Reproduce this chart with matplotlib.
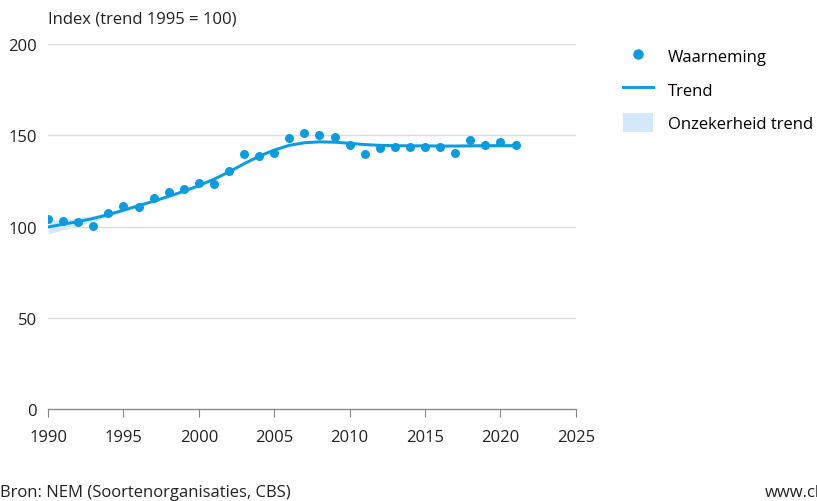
import numpy as np
import matplotlib.pyplot as plt
from matplotlib.lines import Line2D
from matplotlib.patches import Patch

plt.rcParams['font.family'] = ['Open Sans', 'DejaVu Sans']

years = np.arange(1990, 2022)
waarneming = [104.1, 103.0, 102.5, 100.3, 107.4, 111.2, 110.7, 115.6, 118.9, 120.5,
              124.0, 123.3, 130.4, 139.7, 138.6, 140.5, 148.5, 151.2, 150.5, 149.3,
              144.9, 139.7, 142.9, 143.6, 143.6, 143.6, 143.5, 140.3, 147.5, 144.7,
              146.4, 144.9]
trend = [99.8, 101.3, 102.8, 104.5, 106.6, 109.0, 111.5, 114.0, 116.6, 119.4,
         122.5, 126.0, 130.0, 134.5, 138.6, 142.0, 144.6, 146.0, 146.5, 146.3,
         145.7, 145.0, 144.6, 144.4, 144.3, 144.3, 144.2, 144.2, 144.3, 144.4,
         144.4, 144.4]
band_lo = [96.0, 98.3, 100.5, 102.8, 105.4, 108.1, 110.7, 113.3, 115.9, 118.7,
           121.8, 125.3, 129.3, 133.8, 137.9, 141.3, 143.9, 145.3, 145.8, 145.6,
           145.0, 144.3, 143.9, 143.7, 143.6, 143.6, 143.5, 143.5, 143.5, 143.5,
           143.4, 143.3]
band_hi = [103.3, 104.1, 105.0, 106.1, 107.8, 109.9, 112.3, 114.7, 117.3, 120.1,
           123.2, 126.7, 130.7, 135.2, 139.3, 142.7, 145.3, 146.7, 147.2, 147.0,
           146.4, 145.7, 145.3, 145.1, 145.0, 145.0, 144.9, 144.9, 145.1, 145.3,
           145.4, 145.5]

blauw = '#0a9be0'
band_kleur = '#d3e8f8'
fs = 12

fig = plt.figure(figsize=(8.17, 5.02), dpi=100)
ax = fig.add_axes([0.0588, 0.183, 0.646, 0.727])

ax.fill_between(years, band_lo, band_hi, color=band_kleur, lw=0, zorder=1)
ax.plot(years, trend, color=blauw, lw=2.1, zorder=2)
ax.scatter(years, waarneming, s=42, color=blauw, lw=0, zorder=3)

ax.set_xlim(1990, 2025)
ax.set_ylim(0, 200)
ax.set_yticks([0, 50, 100, 150, 200])
ax.set_xticks(range(1990, 2026, 5))
for y in [50, 100, 150, 200]:
    ax.axhline(y, color='#dddddd', lw=1, zorder=0)
for s in ['top', 'right', 'left']:
    ax.spines[s].set_visible(False)
ax.spines['bottom'].set_color('#888888')
ax.spines['bottom'].set_linewidth(1)
ax.tick_params(axis='y', length=0, pad=8, labelsize=fs, labelcolor='#222222')
ax.tick_params(axis='x', length=6, color='#888888', pad=8, labelsize=fs, labelcolor='#222222')

fig.text(48 / 817, 1 - 20 / 502, 'Index (trend 1995 = 100)', fontsize=fs,
         va='center', ha='left', color='#222222')
fig.text(0, 1 - 493 / 502, 'Bron: NEM (Soortenorganisaties, CBS)', fontsize=fs,
         va='center', ha='left', color='#222222')
fig.text(765 / 817, 1 - 493 / 502, 'www.clo.nl', fontsize=fs,
         va='center', ha='left', color='#222222')

handles = [Line2D([], [], marker='o', ls='none', color=blauw, markersize=6.5),
           Line2D([], [], color=blauw, lw=2.1),
           Patch(facecolor=band_kleur, edgecolor='none')]
fig.legend(handles, ['Waarneming', 'Trend', 'Onzekerheid trend'],
           loc='upper left', bbox_to_anchor=(0.762, 0.905), frameon=False,
           fontsize=fs, handlelength=1.8, handleheight=1.3, labelspacing=0.88,
           handletextpad=0.9, borderaxespad=0, borderpad=0)

fig.savefig('out.png', dpi=100)
